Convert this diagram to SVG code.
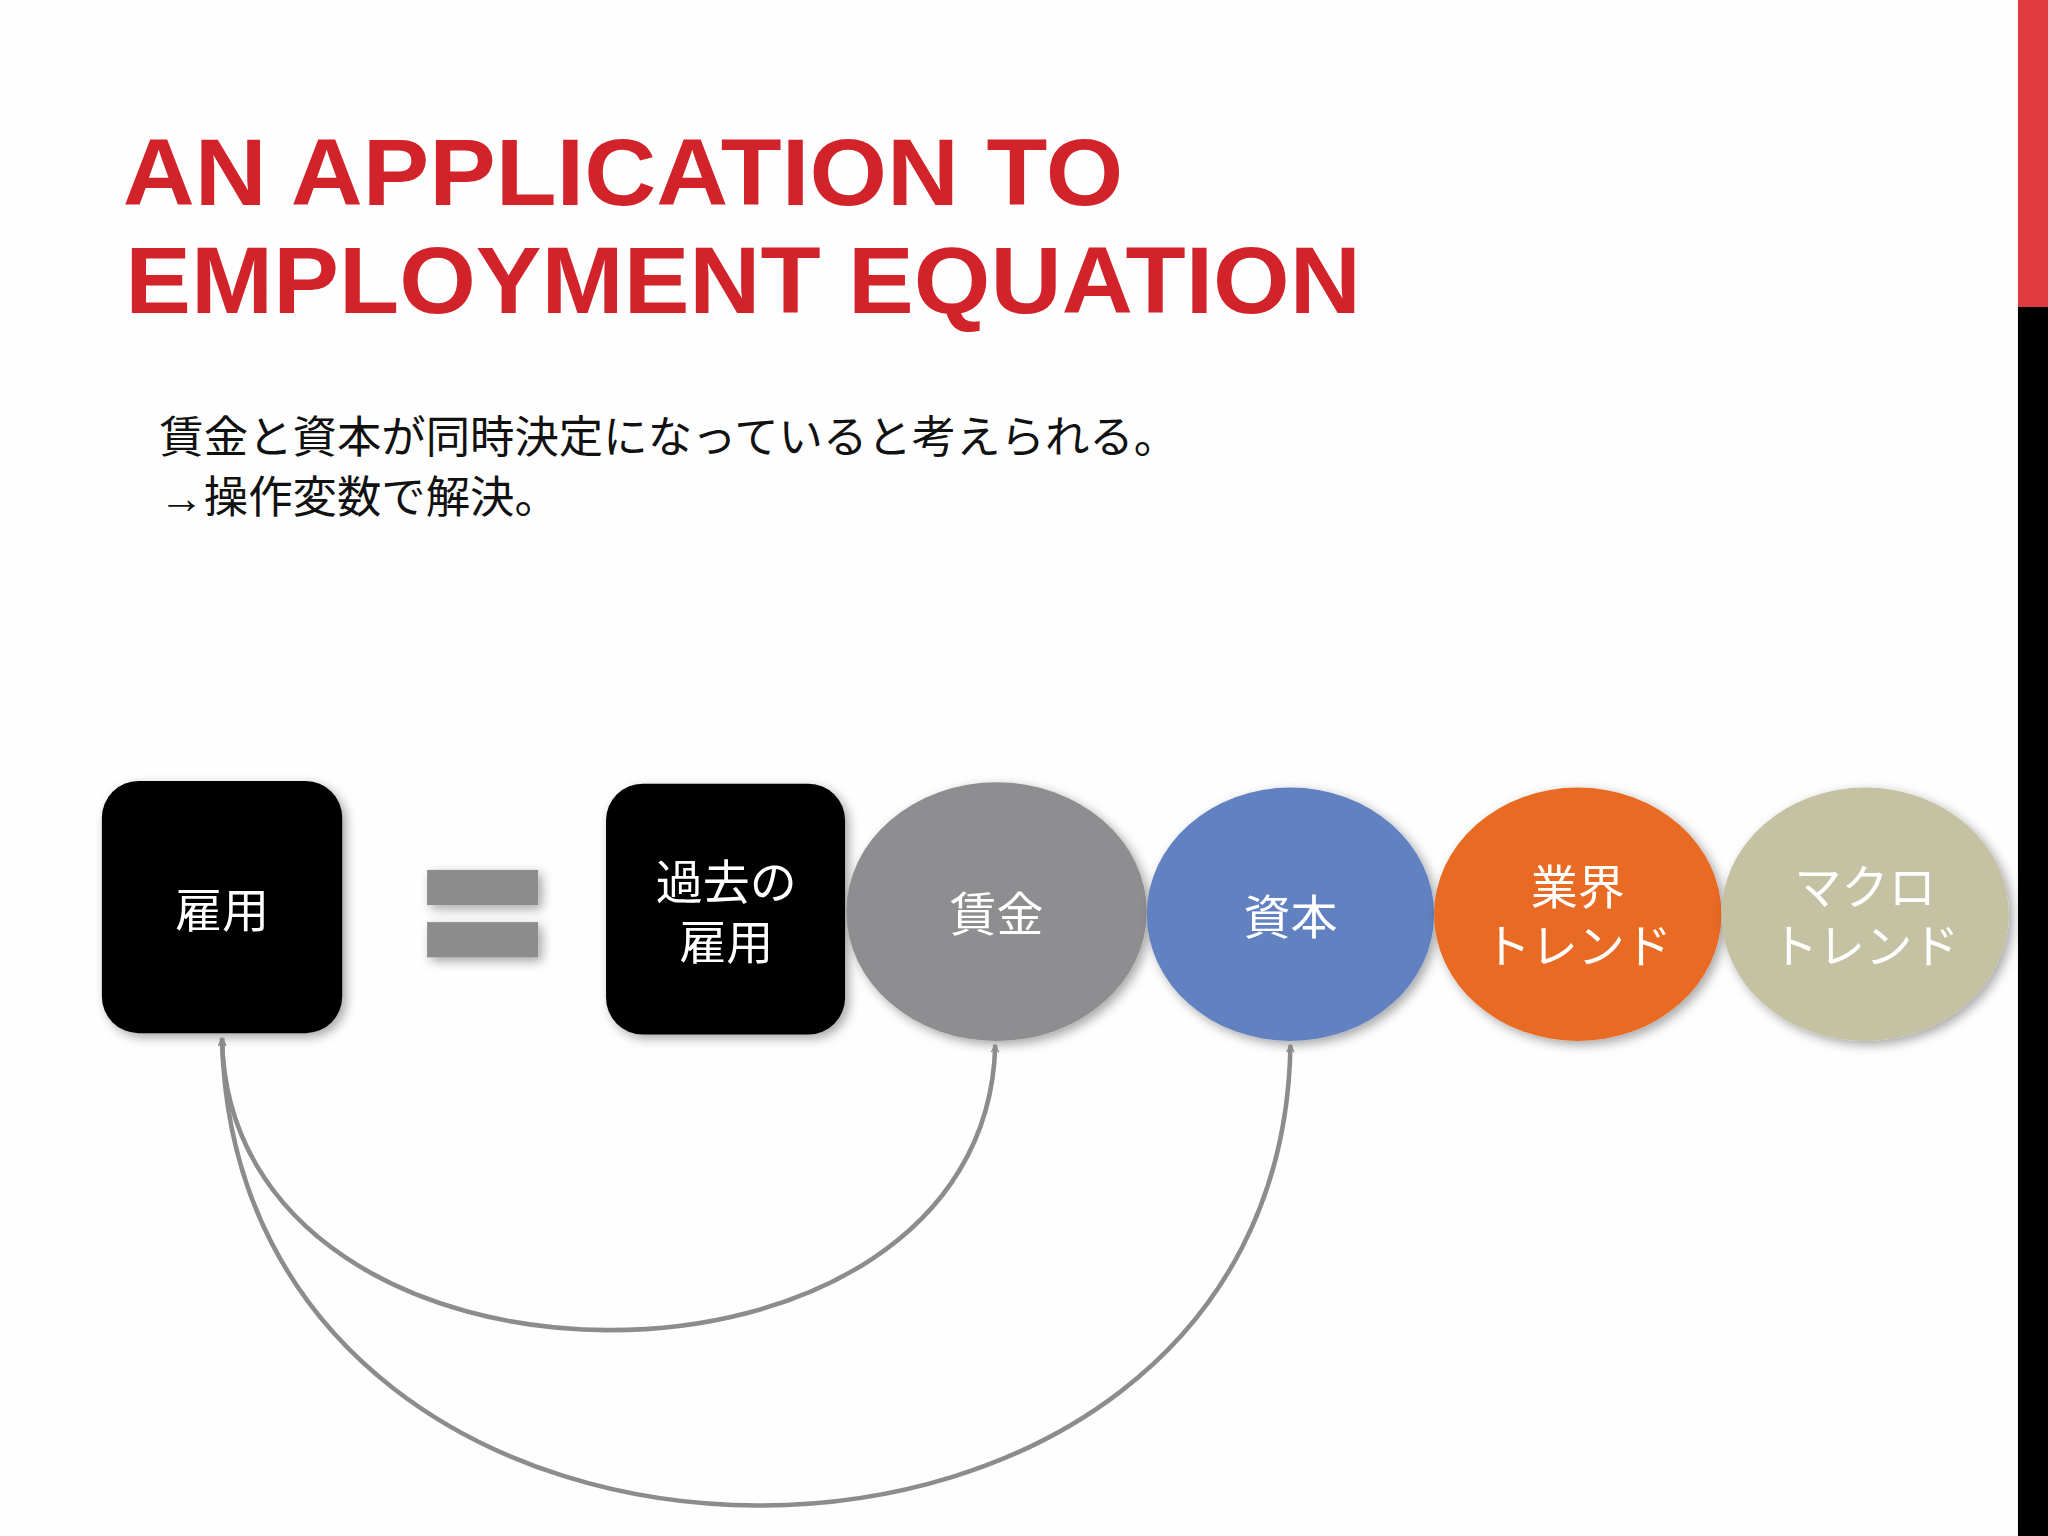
<svg xmlns="http://www.w3.org/2000/svg" width="2048" height="1536" viewBox="0 0 2048 1536">
<defs>
<style>
.t{font-family:"Liberation Sans","Noto Sans CJK JP",sans-serif;fill:#fff;font-size:36px;text-anchor:middle}
.c{fill:none;stroke:#8C8C8C;stroke-width:3.5}
</style>
<filter id="sh" x="-20%" y="-20%" width="140%" height="140%"><feDropShadow dx="3" dy="3" stdDeviation="4" flood-color="#000" flood-opacity="0.35"/></filter>
<marker id="ah" viewBox="0 0 20 20" refX="18" refY="10" markerWidth="7" markerHeight="7" orient="auto-start-reverse" markerUnits="userSpaceOnUse"><path d="M2,2 L18,10 L2,18" fill="none" stroke="#8C8C8C" stroke-width="3"/></marker>
</defs>
<rect width="2048" height="1536" fill="#fefefe"/>
<g transform="scale(1.30612)">
<rect x="1545" y="0" width="23" height="235" fill="#E03B3F"/>
<rect x="1545" y="235" width="23" height="941" fill="#000"/>
<g id="title" font-family="Liberation Sans,sans-serif" font-weight="bold" font-size="72" fill="#D2232A">
<text x="94" y="157" textLength="766" lengthAdjust="spacingAndGlyphs">AN APPLICATION TO</text>
<text x="96" y="240" textLength="946" lengthAdjust="spacingAndGlyphs">EMPLOYMENT EQUATION</text>
</g>
<g id="body" font-family="Liberation Sans,'Noto Sans CJK JP',sans-serif" font-size="34" fill="#111">
<text x="122" y="347">賃金と資本が同時決定になっていると考えられる。</text>
<text x="122" y="393">→操作変数で解決。</text>
</g>
<g id="n1" filter="url(#sh)"><rect x="78" y="598" width="184" height="193" rx="28" fill="#000"/><text class="t" x="170" y="710">雇用</text></g>
<g id="eq" filter="url(#sh)" fill="#8C8C8C"><rect x="327" y="666" width="85" height="27"/><rect x="327" y="706" width="85" height="27"/></g>
<g id="n2" filter="url(#sh)"><rect x="464" y="600" width="183" height="192" rx="28" fill="#000"/><text class="t" x="556" y="688">過去の</text><text class="t" x="556" y="734">雇用</text></g>
<g id="n3" filter="url(#sh)"><ellipse cx="763" cy="698" rx="115" ry="99" fill="#8E8D8F"/><text class="t" x="763" y="713">賃金</text></g>
<g id="n4" filter="url(#sh)"><ellipse cx="988" cy="700" rx="110" ry="97" fill="#6281C0"/><text class="t" x="988" y="715">資本</text></g>
<g id="n5" filter="url(#sh)"><ellipse cx="1208" cy="700" rx="110" ry="97" fill="#E96A24"/><text class="t" x="1208" y="692">業界</text><text class="t" x="1208" y="737">トレンド</text></g>
<g id="n6" filter="url(#sh)"><ellipse cx="1428" cy="700" rx="110" ry="97" fill="#C5C1A3"/><text class="t" x="1428" y="692">マクロ</text><text class="t" x="1428" y="737">トレンド</text></g>
<g id="connectors">
<path class="c" d="M170,795 C175,1092 755,1092 762,800" marker-start="url(#ah)" marker-end="url(#ah)"/>
<path class="c" d="M170,795 C180,1271 981,1271 988,800" marker-start="url(#ah)" marker-end="url(#ah)"/>
</g>
</g>
</svg>
